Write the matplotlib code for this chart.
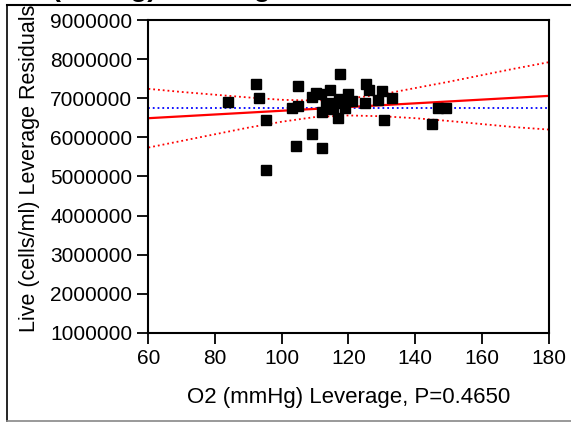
import numpy as np
import matplotlib
matplotlib.use("Agg")
import matplotlib.pyplot as plt
from matplotlib.lines import Line2D

plt.rcParams['font.family'] = ['Liberation Sans', 'DejaVu Sans']

# leverage points
o2_lev = [84.0, 92.4, 93.1, 95.4, 95.4, 104.9, 103.1, 104.9, 104.3, 109.1,
          112.1, 109.1, 110.3, 111.8, 114.5, 117.5, 112.1, 114.3, 117.1, 118.1,
          119.9, 121.1, 116.9, 125.3, 126.1, 124.9, 128.9, 130.1, 133.1, 130.7,
          147.0, 149.2, 145.0, 113.2, 115.5, 118.9]
live_res = [6.90e6, 7.36e6, 7.00e6, 6.44e6, 5.17e6, 7.31e6, 6.76e6, 6.81e6, 5.78e6, 6.09e6,
            5.72e6, 7.02e6, 7.14e6, 7.11e6, 7.21e6, 7.61e6, 6.66e6, 6.87e6, 6.97e6, 6.87e6,
            7.10e6, 6.93e6, 6.49e6, 7.36e6, 7.21e6, 6.87e6, 6.96e6, 7.19e6, 7.00e6, 6.44e6,
            6.74e6, 6.74e6, 6.34e6, 6.83e6, 6.72e6, 6.75e6]

# fit line, mean line and confidence curves
fit_x = [60, 180]
fit_y = [6.49e6, 7.06e6]
mean_y = 6.743e6
band_x = [60, 70, 80, 90, 100, 110, 120, 130, 140, 150, 160, 170, 180]
band_upper = [7.24e6, 7.16e6, 7.09e6, 7.02e6, 6.96e6, 6.94e6, 6.99e6,
              7.10e6, 7.26e6, 7.42e6, 7.59e6, 7.76e6, 7.92e6]
band_lower = [5.74e6, 5.91e6, 6.08e6, 6.25e6, 6.40e6, 6.52e6, 6.56e6,
              6.54e6, 6.49e6, 6.42e6, 6.34e6, 6.26e6, 6.20e6]

fig = plt.figure(figsize=(5.71, 4.22), dpi=100)
ax = fig.add_axes([0.260, 0.211, 0.7006, 0.7416])

ax.plot(band_x, band_upper, color='red', ls=':', lw=1.3)
ax.plot(band_x, band_lower, color='red', ls=':', lw=1.3)
ax.axhline(mean_y, color='blue', ls=':', lw=1.3)
ax.plot(fit_x, fit_y, color='red', lw=1.6)
ax.plot(o2_lev, live_res, 's', color='black', ms=6.5, zorder=5)

ax.set_xlim(60, 180)
ax.set_ylim(1e6, 9e6)
ax.set_xticks(range(60, 181, 20))
ax.set_yticks(np.arange(1e6, 9.01e6, 1e6))
ax.set_yticklabels([f"{int(v)}" for v in np.arange(1e6, 9.01e6, 1e6)])
ax.tick_params(labelsize=15, length=8, width=1.3, pad=3.5)
for s in ax.spines.values():
    s.set_linewidth(1.5)

ax.set_xlabel("O2 (mmHg) Leverage, P=0.4650", fontsize=16, labelpad=14)
ax.set_ylabel("Live (cells/ml) Leverage Residuals", fontsize=15.5)
ax.yaxis.set_label_coords(-0.271, 0.525)

# outer report frame and clipped title
fig.add_artist(Line2D([7/571, 1], [1 - 4.5/422] * 2, color='black', lw=1.5))
fig.add_artist(Line2D([7/571] * 2, [1 - 4.5/422, 1.5/422], color='black', lw=1.2))
fig.add_artist(Line2D([7/571, 1], [1.5/422] * 2, color='#888888', lw=1.2))
fig.text(7/571, 1 + 4.5/422, "O2 (mmHg) Leverage", fontsize=20, fontweight='bold',
         va='baseline', ha='left')

fig.savefig("out.png", dpi=100)
